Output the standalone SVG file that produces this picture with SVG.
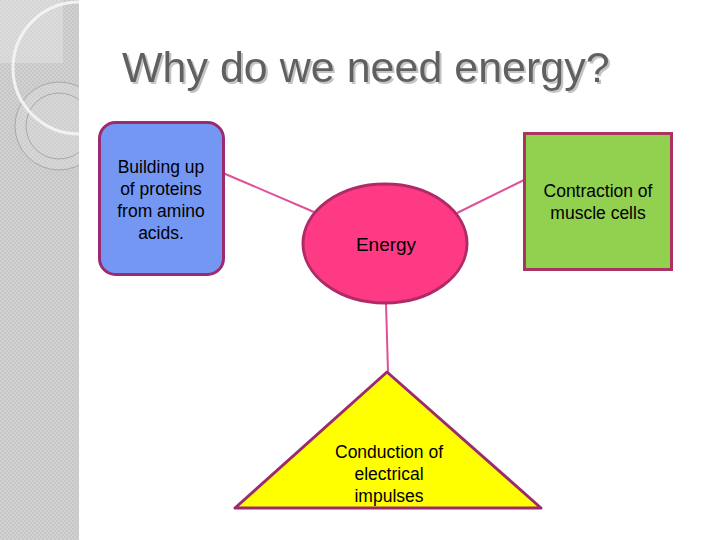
<svg xmlns="http://www.w3.org/2000/svg" width="720" height="540" viewBox="0 0 720 540">
<defs>
<pattern id="chk" width="4" height="4" patternUnits="userSpaceOnUse">
<rect width="4" height="4" fill="#d2d2d2"/>
<rect width="2" height="2" fill="#c6c6c6"/>
<rect x="2" y="2" width="2" height="2" fill="#c6c6c6"/>
</pattern>
<clipPath id="side"><rect x="0" y="0" width="79" height="540"/></clipPath>
<filter id="shadow" x="-5%" y="-20%" width="110%" height="140%">
<feDropShadow dx="2" dy="2" stdDeviation="0.4" flood-color="#c4c4c4" flood-opacity="1"/>
</filter>
</defs>
<style>
.lbl{font-family:"Liberation Sans",Arial,sans-serif;font-size:17.5px;fill:#000;text-anchor:middle}
.edge{stroke:#e0509a;stroke-width:2;fill:none}
.title{font-family:"Liberation Sans",Arial,sans-serif;font-size:43px}
</style>
<rect width="720" height="540" fill="#fff"/>
<g id="sidebar" clip-path="url(#side)">
<rect x="0" y="0" width="79" height="540" fill="url(#chk)"/>
<rect x="0" y="0" width="63" height="63" fill="#fff" fill-opacity="0.25"/>
<circle cx="59" cy="126" r="44" fill="#fff" fill-opacity="0.15" stroke="#a8a8a8" stroke-width="1"/>
<circle cx="59" cy="126" r="33" fill="none" stroke="#a8a8a8" stroke-width="1"/>
<circle cx="79" cy="68" r="66" fill="none" stroke="#f2f2f2" stroke-width="3"/>
</g>
<g id="title">
<text x="122" y="82" class="title" fill="#616161" filter="url(#shadow)">Why do we need energy?</text>
</g>
<g id="connectors">
<line class="edge" x1="223" y1="173" x2="314" y2="212"/>
<line class="edge" x1="457" y1="213" x2="524" y2="180"/>
<line class="edge" x1="386" y1="303" x2="388" y2="372"/>
</g>
<g id="proteins">
<rect x="99.5" y="122.5" width="124" height="152" rx="16" fill="#7597f4" stroke="#9c2a6e" stroke-width="3"/>
<text class="lbl"><tspan x="161" y="173">Building up</tspan><tspan x="161" y="195">of proteins</tspan><tspan x="161" y="217">from amino</tspan><tspan x="161" y="239">acids.</tspan></text>
</g>
<g id="energy">
<ellipse cx="385" cy="243.5" rx="82" ry="59.5" fill="#ff3a85" stroke="#b02a68" stroke-width="3"/>
<text class="lbl" x="386" y="251" style="font-size:19px">Energy</text>
</g>
<g id="muscle">
<rect x="524.5" y="133.5" width="147" height="136" fill="#92d050" stroke="#a8345f" stroke-width="3"/>
<text class="lbl"><tspan x="598" y="197">Contraction of</tspan><tspan x="598" y="219">muscle cells</tspan></text>
</g>
<g id="impulses">
<polygon points="387,372 235,508 541,508" fill="#ffff00" stroke="#9c2a6e" stroke-width="3" stroke-linejoin="round"/>
<text class="lbl"><tspan x="389" y="458">Conduction of</tspan><tspan x="389" y="480">electrical</tspan><tspan x="389" y="502">impulses</tspan></text>
</g>
</svg>
